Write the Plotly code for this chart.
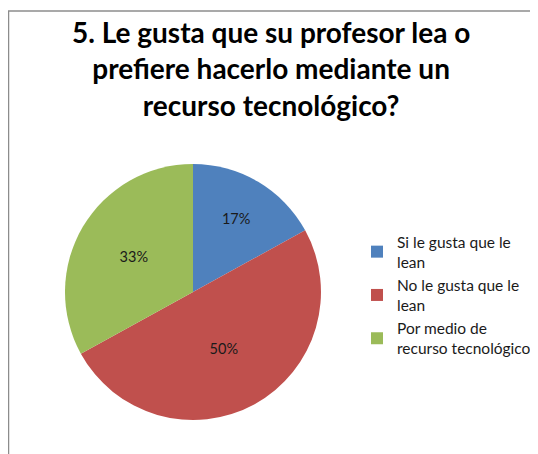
import plotly.graph_objects as go

labels = ["Si le gusta que le<br>lean", "No le gusta que le<br>lean", "Por medio de<br>recurso tecnológico"]
values = [17, 50, 33]
colors = ["#4F81BD", "#C0504D", "#9BBB59"]
title_lines = ["5. Le gusta que su profesor lea o", "prefiere hacerlo mediante un", "recurso tecnológico?"]

# page body has an 8px margin; figure is sized to fill the rest of the window
OFF = 8
W, H = 538 - OFF, 454 - OFF


def px(sx):
    return (sx - OFF) / W


def py(sy):
    return 1 - (sy - OFF) / H


fig = go.Figure(go.Pie(
    labels=labels, values=values, sort=False, direction="clockwise", rotation=0,
    marker=dict(colors=colors, line=dict(width=0)),
    texttemplate="%{percent:.0%}", textposition="inside", insidetextorientation="horizontal",
    textfont=dict(size=14.5, color="#1a1a1a", family="Lato"),
    domain=dict(x=[px(65), px(321)], y=[py(421), py(163)]),
    hoverinfo="label+percent",
))
fig.update_layout(
    width=W, height=H, margin=dict(l=0, r=0, t=0, b=0),
    paper_bgcolor="white", plot_bgcolor="white",
    font=dict(family="Lato", color="#1a1a1a"),
    annotations=[dict(text="<b>" + "<br>".join(title_lines) + "</b>", xref="paper", yref="paper",
                      x=px(271), xanchor="center", y=py(13), yanchor="top", showarrow=False,
                      align="center", font=dict(size=28, family="Lato", color="black"))],
    legend=dict(x=px(357), xanchor="left", y=py(225), yanchor="top",
                font=dict(size=15.5, family="Lato", color="#1a1a1a"), tracegroupgap=0,
                itemwidth=30),
    shapes=[
        dict(type="line", xref="paper", yref="paper", x0=px(8), x1=1, y0=py(11), y1=py(11),
             line=dict(color="#8c8c8c", width=1.5)),
        dict(type="line", xref="paper", yref="paper", x0=px(8.5), x1=px(8.5), y0=py(11), y1=0,
             line=dict(color="#8c8c8c", width=1.5)),
    ],
)
fig.write_html("out.html")
